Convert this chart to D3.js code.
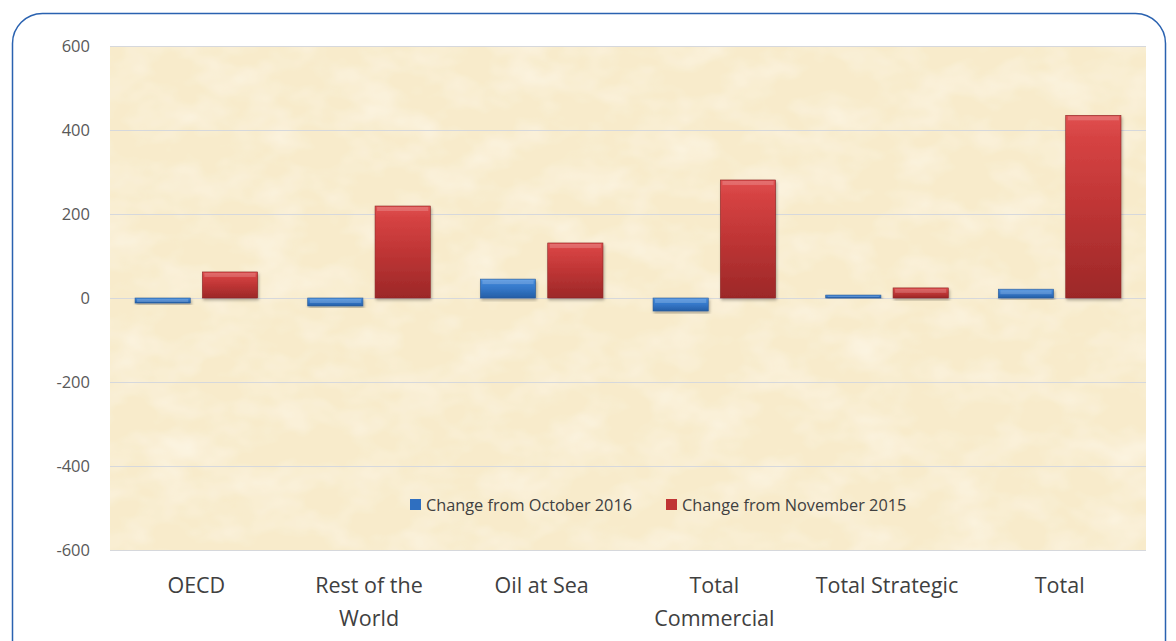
<!DOCTYPE html>
<html>
<head>
<meta charset="utf-8">
<script src="https://cdn.jsdelivr.net/npm/d3@7"></script>
<style>
  body { margin: 0; background: #fff; }
  svg { display: block; font-family: "Open Sans", sans-serif; }
</style>
</head>
<body>
<svg id="chart" width="1176" height="641"></svg>
<script>
// data
const categories = [["OECD"], ["Rest of the", "World"], ["Oil at Sea"], ["Total", "Commercial"], ["Total Strategic"], ["Total"]];
const seriesNames = ["Change from October 2016", "Change from November 2015"];
const changeOct2016 = [-12, -19, 45, -31, 7, 21];
const changeNov2015 = [62, 219, 131, 281, 24, 435];
const yTicks = [-600, -400, -200, 0, 200, 400, 600];

const W = 1176, H = 641;
const margin = { top: 46, right: 30, bottom: 91, left: 110 };
const svg = d3.select("#chart");

// frame with rounded corners
svg.append("rect")
  .attr("x", 12.5).attr("y", 13.5)
  .attr("width", 1153).attr("height", 680)
  .attr("rx", 30).attr("ry", 30)
  .attr("fill", "#fff")
  .attr("stroke", "#2a62b0")
  .attr("stroke-width", 1.5);

const defs = svg.append("defs");

// parchment texture, kept faint
const tex = defs.append("filter").attr("id", "paper").attr("x", 0).attr("y", 0).attr("width", 1).attr("height", 1);
tex.append("feTurbulence").attr("type", "fractalNoise").attr("baseFrequency", "0.02 0.03").attr("numOctaves", 3).attr("seed", 7).attr("result", "noise");
tex.append("feColorMatrix").attr("in", "noise").attr("type", "matrix")
  .attr("values", "0 0 0 0 1  0 0 0 0 0.98  0 0 0 0 0.92  0.9 0 0 0 -0.35")
  .attr("result", "spots");
tex.append("feComposite").attr("in", "spots").attr("in2", "SourceGraphic").attr("operator", "in").attr("result", "sp");
tex.append("feMerge").call(m => { m.append("feMergeNode").attr("in", "SourceGraphic"); m.append("feMergeNode").attr("in", "sp"); });

const shadow = defs.append("filter").attr("id", "shadow").attr("x", "-20%").attr("y", "-20%").attr("width", "140%").attr("height", "140%");
shadow.append("feDropShadow").attr("dx", 1).attr("dy", 2).attr("stdDeviation", 1.5).attr("flood-color", "#000").attr("flood-opacity", 0.3);

function grad(id, stops) {
  const g = defs.append("linearGradient").attr("id", id).attr("x1", 0).attr("y1", 0).attr("x2", 0).attr("y2", 1);
  stops.forEach(([o, c]) => g.append("stop").attr("offset", o).attr("stop-color", c));
}
grad("gBlue", [[0, "#5a9be6"], [0.12, "#3f86d8"], [0.5, "#3477c8"], [1, "#255ea6"]]);
grad("gRed", [[0, "#e05050"], [0.12, "#d64343"], [0.5, "#bf3535"], [1, "#9c2828"]]);
const fills = ["url(#gBlue)", "url(#gRed)"];
const edge = ["#2a5a96", "#8a2424"];
const legendColors = ["#2f6fc0", "#c03434"];

const x0 = d3.scaleBand()
  .domain(d3.range(categories.length))
  .range([margin.left, W - margin.right])
  .paddingInner(0.29).paddingOuter(0.145);
const x1 = d3.scaleBand().domain([0, 1]).range([0, x0.bandwidth()]).paddingInner(0.18);
const y = d3.scaleLinear().domain([-600, 600]).range([H - margin.bottom, margin.top]);

// plot area
svg.append("rect")
  .attr("x", margin.left).attr("y", margin.top)
  .attr("width", W - margin.right - margin.left)
  .attr("height", y(-600) - y(600))
  .attr("fill", "#f8ebcb")
  .attr("filter", "url(#paper)");

// gridlines + y labels
const yAxis = d3.axisLeft(y).tickValues(yTicks).tickFormat(d => String(d))
  .tickSize(-(W - margin.right - margin.left)).tickPadding(20);
const ga = svg.append("g").attr("transform", `translate(${margin.left},0)`).call(yAxis);
ga.select(".domain").remove();
ga.selectAll(".tick line").attr("stroke", "#d6d8dc").attr("stroke-width", 1.2);
ga.selectAll(".tick text").attr("fill", "#595959").attr("font-size", 16.5).attr("font-family", "Open Sans, sans-serif");

// bars
const series = [changeOct2016, changeNov2015];
series.forEach((vals, s) => {
  const g = svg.append("g");
  const bars = g.selectAll("g").data(vals).join("g")
    .attr("transform", (d, i) => `translate(${x0(i) + x1(s)},0)`);
  bars.append("rect")
    .attr("y", d => y(Math.max(0, d)))
    .attr("width", x1.bandwidth())
    .attr("height", d => Math.max(1.5, Math.abs(y(d) - y(0))))
    .attr("fill", fills[s])
    .attr("stroke", edge[s]).attr("stroke-width", 0.6)
    .attr("filter", "url(#shadow)");
  // bevel highlight on top edge
  bars.append("rect")
    .attr("x", 2)
    .attr("y", d => y(Math.max(0, d)) + 1)
    .attr("width", x1.bandwidth() - 4)
    .attr("height", d => Math.min(4, Math.max(0, Math.abs(y(d) - y(0)) - 2)))
    .attr("fill", "#fff").attr("opacity", 0.18);
});

// category labels
const labels = svg.append("g").selectAll("text").data(categories).join("text")
  .attr("x", (d, i) => x0(i) + x0.bandwidth() / 2)
  .attr("y", 593)
  .attr("text-anchor", "middle")
  .attr("fill", "#404040")
  .attr("font-size", 21.5);
labels.selectAll("tspan").data(d => d).join("tspan")
  .attr("x", function () { return this.parentNode.getAttribute("x"); })
  .attr("dy", (d, i) => i === 0 ? 0 : 33)
  .text(d => d);

// legend
const legendX = [410, 666];
const lg = svg.append("g").selectAll("g").data(seriesNames).join("g")
  .attr("transform", (d, i) => `translate(${legendX[i]},499)`);
lg.append("rect").attr("width", 11).attr("height", 11).attr("fill", (d, i) => legendColors[i]);
lg.append("text").attr("x", 16).attr("y", 11.5).attr("font-size", 16.3).attr("fill", "#404040").text(d => d);
</script>
</body>
</html>
